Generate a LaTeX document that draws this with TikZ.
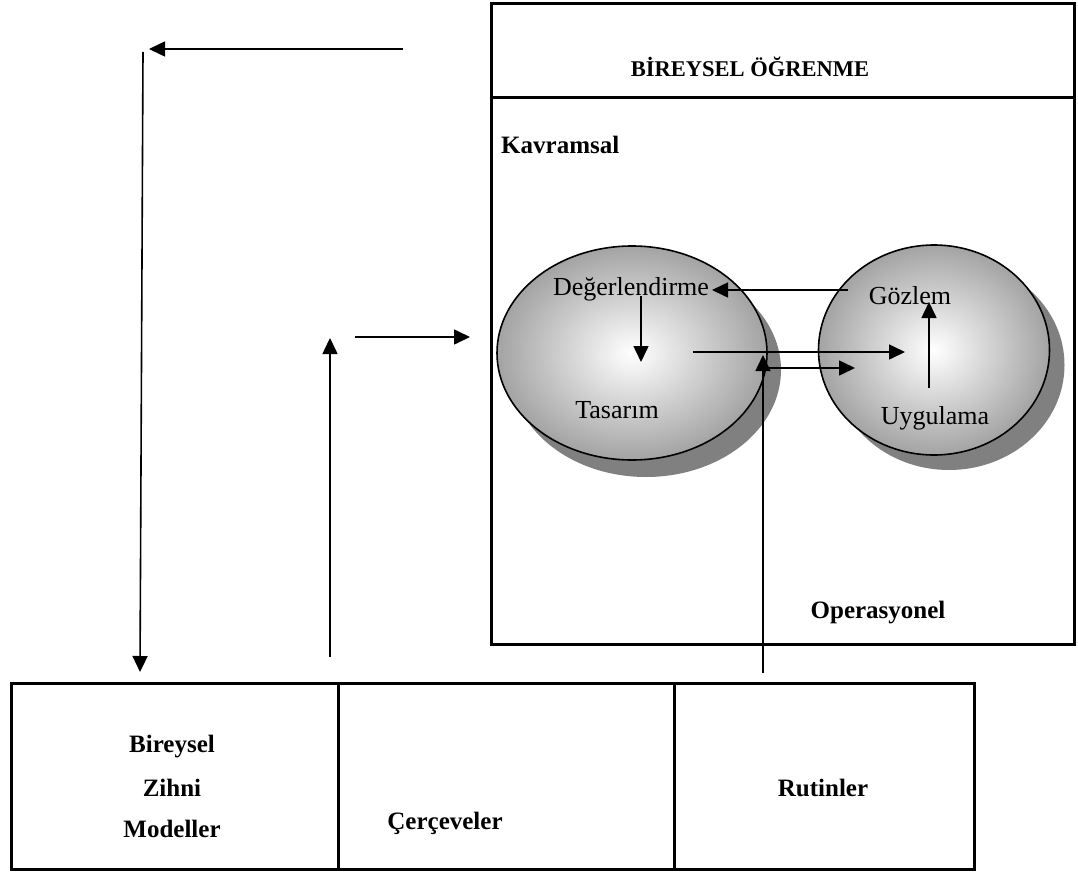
\documentclass[tikz,border=0pt]{standalone}
\usepackage{fontspec}
\setmainfont{Liberation Serif}
\usetikzlibrary{arrows.meta,shapes.geometric}
\begin{document}
\begin{tikzpicture}[x=1pt,y=-1pt,
  lbl/.style={font=\fontsize{26}{30}\selectfont, inner sep=0pt},
  blbl/.style={font=\bfseries\fontsize{25}{29}\selectfont, inner sep=0pt},
  tlbl/.style={font=\bfseries\fontsize{22.5}{26}\selectfont, inner sep=0pt},
  frame/.style={draw, line width=2.6pt, inner sep=0pt, anchor=north west},
  blob/.style={ellipse, draw, line width=1.6pt, inner sep=0pt, shading=radial, inner color=white, outer color=black!36},
  shadowblob/.style={ellipse, fill=black!50, inner sep=0pt},
  arr/.style={-{Triangle[length=16pt,width=15pt]}, line width=1.6pt},
  ln/.style={line width=1.6pt}]
\useasboundingbox (0,0) rectangle (1078,872);

% big box
\node[frame, minimum width=583pt, minimum height=94pt] (title) at (490,2) {};
\node[frame, minimum width=583pt, minimum height=547pt] (body) at (490,96) {};
\node[tlbl] (tt) at (750,67) {BİREYSEL ÖĞRENME};
\node[blbl, anchor=west] (kav) at (501,145) {Kavramsal};
\node[blbl] (ope) at (878,613) {Operasyonel};

% ellipses
\node[shadowblob, minimum width=270pt, minimum height=214pt] (Ls) at (646,370) {};
\node[blob, minimum width=270pt, minimum height=214pt] (L) at (632,353) {};
\node[shadowblob, minimum width=231pt, minimum height=210pt] (Rs) at (949,365) {};
\node[blob, minimum width=231pt, minimum height=210pt] (R) at (934,350) {};

\node[lbl] (deg) at (631,289) {Değerlendirme};
\node[lbl] (tas) at (617,410) {Tasarım};
\node[lbl] (goz) at (910,296) {Gözlem};
\node[lbl] (uyg) at (935,418) {Uygulama};

% bottom box
\node[frame, minimum width=327pt, minimum height=186pt] (c1) at (10,682) {};
\node[frame, minimum width=336pt, minimum height=186pt] (c2) at (337,682) {};
\node[frame, minimum width=300pt, minimum height=186pt] (c3) at (673,682) {};
\node[blbl] (b1) at (172,747) {Bireysel};
\node[blbl] (b2) at (172,788) {Zihni};
\node[blbl] (b3) at (172,829) {Modeller};
\node[blbl] (cer) at (445,823) {Çerçeveler};
\node[blbl] (rut) at (823,788) {Rutinler};

% coordinates for free ends
\coordinate (p1s) at (403,49);
\coordinate (p1e) at (149,49);
\coordinate (p2s) at (143,52);
\coordinate (p2e) at (140,672);
\coordinate (p3s) at (330,657);
\coordinate (p3e) at (330,338);
\coordinate (p4s) at (355,337);
\coordinate (p4e) at (470,337);
\coordinate (p5s) at (848,290);
\coordinate (p5e) at (712,290);
\coordinate (p6s) at (641,296);
\coordinate (p6e) at (641,362);
\coordinate (p7s) at (693,352);
\coordinate (p7e) at (905,352);
\coordinate (p8s) at (763,368);
\coordinate (p8e) at (855,368);
\coordinate (p9s) at (763,673);
\coordinate (p9e) at (763,355);
\coordinate (p10s) at (929,388);
\coordinate (p10e) at (929,302);

\draw[arr] (p1s) -- (p1e);
\draw[arr] (p2s) -- (p2e);
\draw[arr] (p3s) -- (p3e);
\draw[arr] (p4s) -- (p4e);
\draw[arr] (p5s) -- (p5e);
\draw[arr] (p6s) -- (p6e);
\draw[arr] (p7s) -- (p7e);
\draw[arr] (p8s) -- (p8e);
\draw[arr] (p9s) -- (p9e);
\draw[arr] (p10s) -- (p10e);
\end{tikzpicture}
\end{document}
